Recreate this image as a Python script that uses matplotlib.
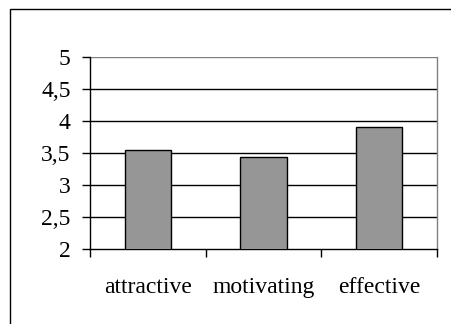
import matplotlib.pyplot as plt
from matplotlib.patches import Rectangle
from matplotlib.ticker import FixedLocator

categories = ["attractive", "motivating", "effective"]
scores = [3.55, 3.44, 3.91]
yticks = [2, 2.5, 3, 3.5, 4, 4.5, 5]
ytick_labels = ["2", "2,5", "3", "3,5", "4", "4,5", "5"]

plt.rcParams["font.family"] = ["Liberation Serif", "DejaVu Serif"]

W, H = 452, 324
fig = plt.figure(figsize=(W / 100, H / 100), dpi=100)
ax = fig.add_axes([90 / W, 1 - 249 / H, (437 - 90) / W, (249 - 57) / H])

x = list(range(len(categories)))
ax.bar(x, scores, width=0.4, color="#969696", edgecolor="black", linewidth=1.0, zorder=3)

ax.set_xlim(-0.5, 2.5)
ax.set_ylim(2, 5)
ax.set_yticks(yticks)
ax.set_yticklabels(ytick_labels, fontsize=17)
for y in yticks[1:-1]:
    ax.axhline(y, color="black", linewidth=1.0, zorder=1)
ax.axhline(5, color="#808080", linewidth=1.0, zorder=1)

# category labels centred, ticks between the categories
ax.xaxis.set_major_locator(FixedLocator([-0.5, 0.5, 1.5, 2.5]))
ax.set_xticklabels([])
ax.xaxis.set_minor_locator(FixedLocator(x))
ax.set_xticklabels(categories, minor=True, fontsize=17)
ax.tick_params(axis="x", which="major", direction="out", length=6, width=1, color="black")
ax.tick_params(axis="x", which="minor", length=0, pad=20)
ax.tick_params(axis="y", direction="out", length=6, width=1, pad=8)

for side in ["left", "bottom"]:
    ax.spines[side].set_color("black")
    ax.spines[side].set_linewidth(1.0)
ax.spines["top"].set_visible(False)
ax.spines["right"].set_color("#808080")
ax.spines["right"].set_linewidth(1.0)

# outer frame around the chart
fig.patches.append(Rectangle((10 / W, -0.1), 1.2, 1 - 9 / H + 0.1, transform=fig.transFigure,
                             fill=False, edgecolor="black", linewidth=1.0))

fig.savefig("out.png", dpi=100)
